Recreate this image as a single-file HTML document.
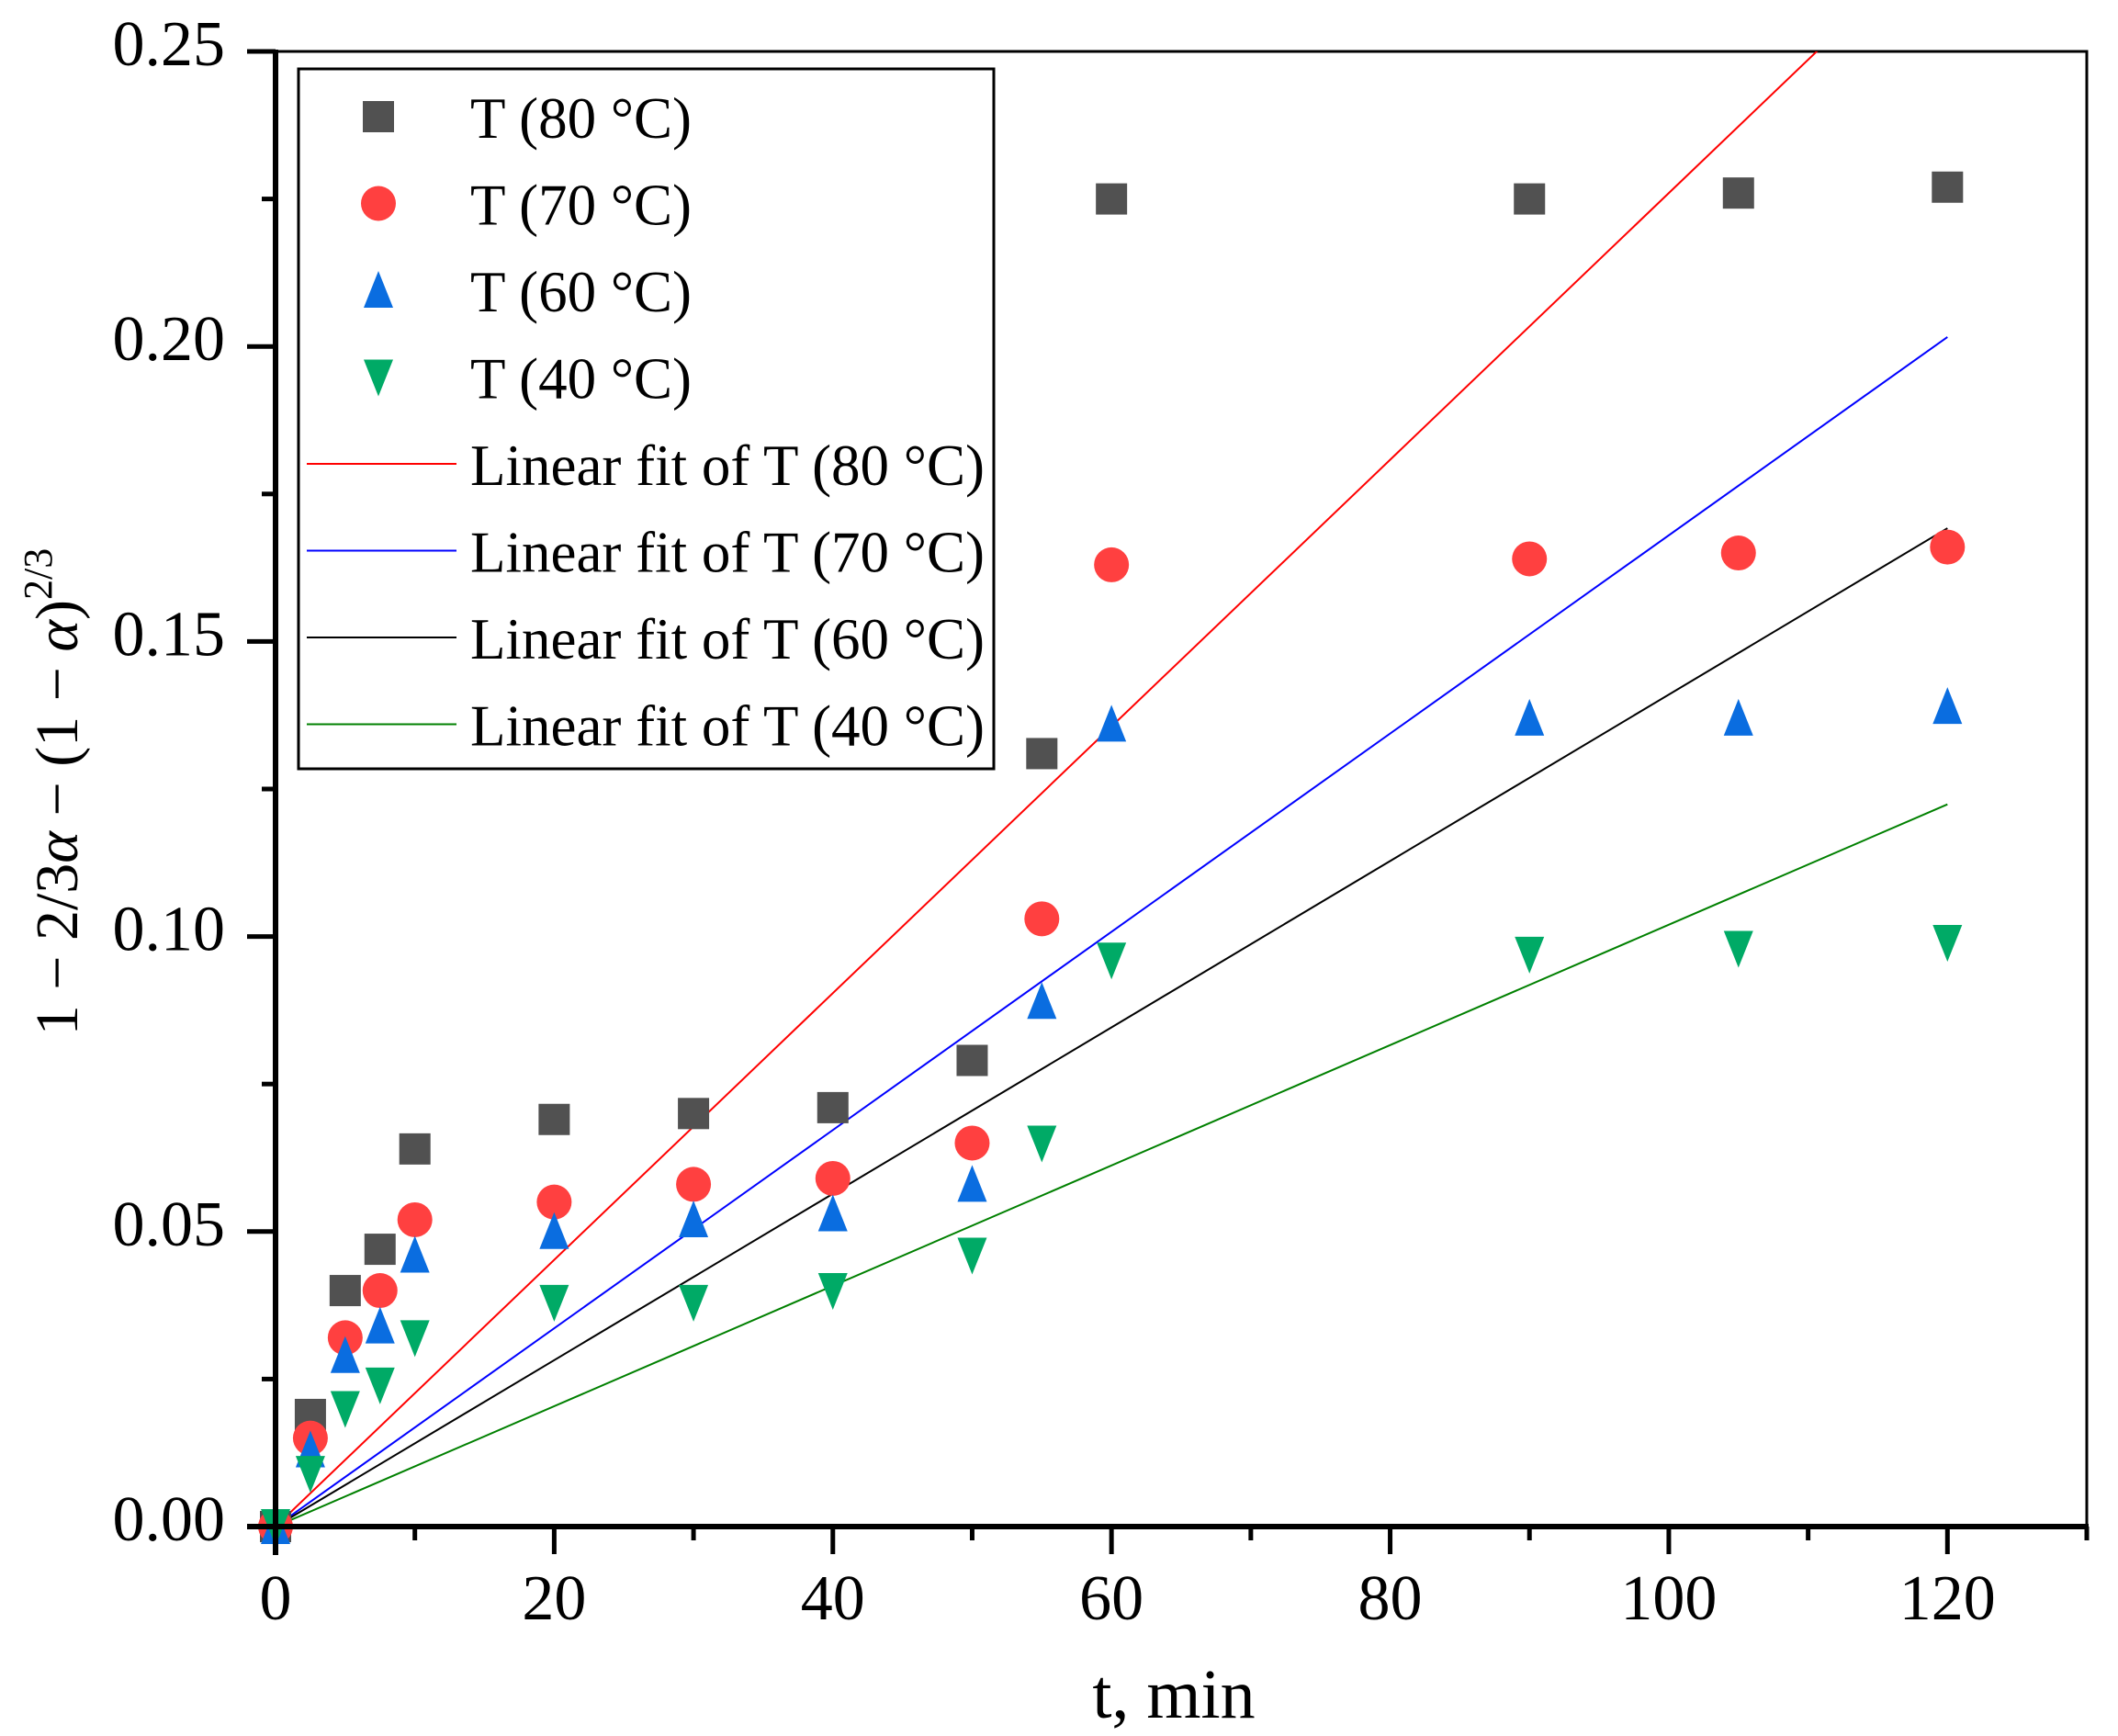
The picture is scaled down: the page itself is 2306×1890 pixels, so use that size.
<!DOCTYPE html>
<html><head><meta charset="utf-8"><style>
html,body{margin:0;padding:0;background:#fff;}
svg{display:block;font-family:"Liberation Serif",serif;}
</style></head><body>
<svg id="chart" width="2306" height="1890" viewBox="0 0 2306 1890" xmlns="http://www.w3.org/2000/svg">
<rect width="2306" height="1890" fill="#fff"/>
<g id="plot"></g>
</svg>
<script>
const times = [0, 2.5, 5, 7.5, 10, 20, 30, 40, 50, 55, 60, 90, 105, 120];
const s80 = [0, 0.019, 0.040, 0.047, 0.064, 0.069, 0.070, 0.071, 0.079, 0.131, 0.225, 0.225, 0.226, 0.227];
const s70 = [0, 0.015, 0.032, 0.040, 0.052, 0.055, 0.058, 0.059, 0.065, 0.103, 0.163, 0.164, 0.165, 0.166];
const s60 = [0, 0.013, 0.029, 0.034, 0.046, 0.050, 0.052, 0.053, 0.058, 0.089, 0.136, 0.137, 0.137, 0.139];
const s40 = [0, 0.009, 0.020, 0.024, 0.032, 0.038, 0.038, 0.040, 0.046, 0.065, 0.096, 0.097, 0.098, 0.099];
const slopes = [0.00226, 0.00168, 0.00141, 0.00102];
const xTicks = [0, 20, 40, 60, 80, 100, 120];
const yTicks = ["0.00", "0.05", "0.10", "0.15", "0.20", "0.25"];
const seriesNames = ["T (80 °C)", "T (70 °C)", "T (60 °C)", "T (40 °C)"];

const NS = "http://www.w3.org/2000/svg";
const X0 = 300, X1 = 2272, Y0 = 1662, Y1 = 56;
const xMax = 130, yMax = 0.25;
function xs(v){ return X0 + (X1 - X0) * v / xMax; }
function ys(v){ return Y0 - (Y0 - Y1) * v / yMax; }
const g = document.getElementById('plot');
function el(tag, attrs, parent){
  const e = document.createElementNS(NS, tag);
  for (const k in attrs) e.setAttribute(k, attrs[k]);
  (parent || g).appendChild(e);
  return e;
}
const clip = el('clipPath', {id: 'clipArea'});
el('rect', {x: X0, y: Y1, width: X1 - X0, height: Y0 - Y1}, clip);

const frame = el('rect', {x: X0, y: Y1, width: X1 - X0, height: Y0 - Y1, fill: 'none', stroke: '#000', 'stroke-width': 3});



const fitColors = ['#ff0000', '#0000ff', '#000000', '#008000'];
slopes.forEach((s, i) => {
  const l = el('line', {x1: xs(0), y1: ys(0), x2: xs(120), y2: ys(s * 120), stroke: fitColors[i], 'stroke-width': 2, 'clip-path': 'url(#clipArea)'});
  
  
});

const mColors = ['#515151', '#ff4040', '#0a6de0', '#00aa66'];
function marker(type, cx, cy, color, parent){
  let m;
  if (type === 0) m = el('rect', {x: cx - 17, y: cy - 17, width: 34, height: 34, fill: color}, parent);
  else if (type === 1) m = el('circle', {cx: cx, cy: cy, r: 19, fill: color}, parent);
  else if (type === 2) m = el('polygon', {points: `${cx},${cy-21} ${cx+16},${cy+19} ${cx-16},${cy+19}`, fill: color}, parent);
  else m = el('polygon', {points: `${cx},${cy+21} ${cx+16},${cy-19} ${cx-16},${cy-19}`, fill: color}, parent);
  return m;
}
[s80, s70, s60, s40].forEach((arr, i) => {
  arr.forEach((v, j) => {
    const m = marker(i, xs(times[j]), ys(v), mColors[i]);
    
    
  });
});

const xa = el('line', {x1: X0 - 31, y1: Y0, x2: X1 + 2, y2: Y0, stroke: '#000', 'stroke-width': 6});


const ya = el('line', {x1: X0, y1: Y1 - 2, x2: X0, y2: Y0 + 31, stroke: '#000', 'stroke-width': 6});



for (let v = 0; v <= xMax; v += 10) {
  const major = v % 20 === 0;
  const t = el('line', {x1: xs(v), y1: Y0, x2: xs(v), y2: Y0 + (major ? 30 : 15), stroke: '#000', 'stroke-width': 5});
  
  
}
xTicks.forEach(v => {
  const t = el('text', {x: xs(v), y: 1763, 'font-size': 70, 'text-anchor': 'middle'});
  t.textContent = v;
  
  
});
for (let k = 0; k <= 10; k++) {
  const v = k * 0.025;
  const major = k % 2 === 0;
  const t = el('line', {x1: X0, y1: ys(v), x2: X0 - (major ? 31 : 15), y2: ys(v), stroke: '#000', 'stroke-width': 5});
  
  
}
yTicks.forEach(s => {
  const t = el('text', {x: 245, y: ys(parseFloat(s)) + 15, 'font-size': 70, 'text-anchor': 'end'});
  t.textContent = s;
  
  
});

const xt = el('text', {x: 1278, y: 1870, 'font-size': 76, 'text-anchor': 'middle'});
xt.textContent = 't, min';


const yt = el('text', {x: 0, y: 0, 'font-size': 66, 'text-anchor': 'middle', transform: 'translate(84,862) rotate(-90)'});


yt.innerHTML = '1 − 2/3<tspan font-style="italic">α</tspan> − (1 − <tspan font-style="italic">α</tspan>)<tspan font-size="44" dy="-28">2/3</tspan>';

const lg = el('g', {});


el('rect', {x: 325, y: 75, width: 757, height: 762, fill: '#fff', stroke: '#000', 'stroke-width': 3}, lg);
seriesNames.forEach((n, i) => {
  const cy = 127 + i * 94.5;
  const e = el('g', {}, lg);
  
  
  marker(i, 412, cy, mColors[i], e);
  const t = el('text', {x: 512, y: cy + 23, 'font-size': 63}, e);
  t.textContent = n;
});
seriesNames.forEach((n, i) => {
  const cy = 127 + (i + 4) * 94.5;
  const e = el('g', {}, lg);
  
  
  el('line', {x1: 334, y1: cy, x2: 497, y2: cy, stroke: fitColors[i], 'stroke-width': 2}, e);
  const t = el('text', {x: 512, y: cy + 23, 'font-size': 63}, e);
  t.textContent = 'Linear fit of ' + n;
});
</script>
</body></html>
